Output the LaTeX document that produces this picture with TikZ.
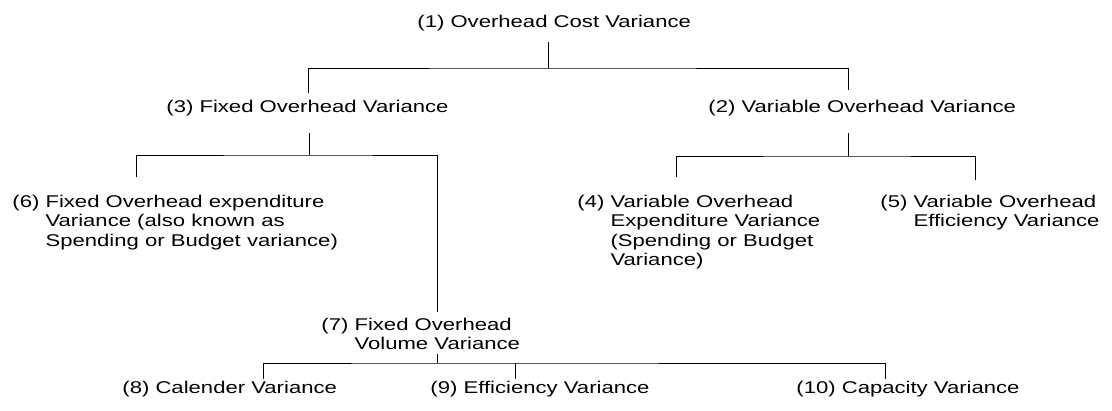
\documentclass[tikz,border=0pt]{standalone}
\usepackage{fontspec}
\setmainfont[FakeStretch=1.3]{Liberation Sans}
\begin{document}
\begin{tikzpicture}[x=1pt, y=-1pt, line width=.8pt,
  lbl/.style={anchor=base west, inner sep=0pt, font=\fontsize{17}{19.5}\selectfont}]
\useasboundingbox (0,0) rectangle (1112,410);
\node[lbl] (n1) at (417,27) {(1) Overhead Cost Variance};
\node[lbl] (n3) at (166,112) {(3) Fixed Overhead Variance};
\node[lbl] (n2) at (708,112) {(2) Variable Overhead Variance};
\node[lbl] (n6) at (12,207) {(6) \begin{tabular}[t]{@{}l@{}}Fixed Overhead expenditure\\Variance (also known as\\Spending or Budget variance)\end{tabular}};
\node[lbl] (n4) at (577,207) {(4) \begin{tabular}[t]{@{}l@{}}Variable Overhead\\Expenditure Variance\\(Spending or Budget\\Variance)\end{tabular}};
\node[lbl] (n5) at (880,207) {(5) \begin{tabular}[t]{@{}l@{}}Variable Overhead\\Efficiency Variance\end{tabular}};
\node[lbl] (n7) at (321,330) {(7) \begin{tabular}[t]{@{}l@{}}Fixed Overhead\\Volume Variance\end{tabular}};
\node[lbl] (n8) at (122,393) {(8) Calender Variance};
\node[lbl] (n9) at (430,393) {(9) Efficiency Variance};
\node[lbl] (n10) at (796,393) {(10) Capacity Variance};
% bracket under (1)
\coordinate (t1) at (548,42); \coordinate (j1) at (548,68);
\coordinate (e3) at (308,93); \coordinate (e2) at (848,90);
\draw (t1) -- (j1);
\draw (e3) |- (j1) -| (e2);
% bracket under (3)
\coordinate (t3) at (309,133); \coordinate (j3) at (309,155);
\coordinate (e6) at (136,177); \coordinate (e7) at (437,312);
\draw (t3) -- (j3);
\draw (e6) |- (j3) -| (e7);
% bracket under (2)
\coordinate (t2) at (848,133); \coordinate (j2) at (848,156);
\coordinate (e4) at (676,177); \coordinate (e5) at (975,180);
\draw (t2) -- (j2);
\draw (e4) |- (j2) -| (e5);
% bracket under (7)
\coordinate (t7) at (437,354); \coordinate (j7) at (437,363);
\coordinate (e8) at (263,379); \coordinate (e9) at (515,379); \coordinate (e10) at (885,379);
\draw (t7) -- (j7);
\draw (e8) |- (j7) -| (e10);
\draw (j7 -| e9) -- (e9);
\end{tikzpicture}
\end{document}
